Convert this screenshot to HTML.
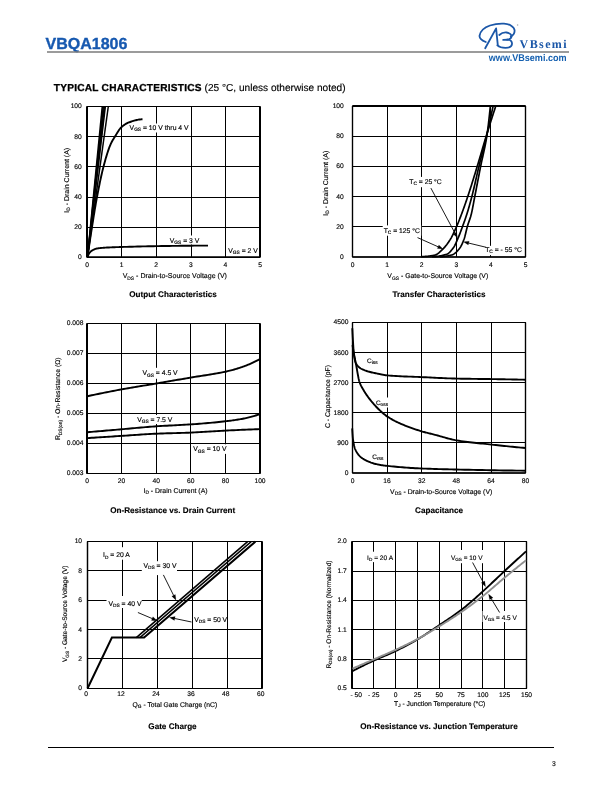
<!DOCTYPE html><html><head><meta charset="utf-8"><style>html,body{margin:0;padding:0;background:#fff;width:612px;height:792px;overflow:hidden}svg{display:block;will-change:transform;text-rendering:geometricPrecision}</style></head><body>
<svg width="612" height="792" viewBox="0 0 612 792" font-family='"Liberation Sans", sans-serif'>
<text x="45.6" y="48.7" font-size="16" text-anchor="start" font-weight="bold" fill="#1759b0" stroke="#1759b0" stroke-width="0.35">VBQA1806</text>
<line x1="47" y1="52" x2="569" y2="52" stroke="#7a7a7a" stroke-width="1.6" />
<g fill="none" stroke="#1b57a8" stroke-width="1.8" stroke-linecap="round" stroke-linejoin="round">
<path d="M485.8,42 C482,40.5 479,38.5 479.6,35.5 C480.5,31 484,27.5 490,25.5 C495,23.8 500,23.4 504,23.6 C510,24 514.5,27 514.6,30.6 C514.7,33.5 513,35.5 510.8,36.8"/>
<path d="M499.3,35 C501.5,33 504,32.3 506.5,32.5 C509.5,33 511.5,34.5 511.5,36.5 C511.4,38.2 509.5,39.4 507,39.6"/>
<path d="M503.2,39.9 L507.6,39.6 C510.5,39.8 512.2,41.5 512,44 C511.8,46.5 509,47.8 505.5,47.8 C502,47.8 499,46.8 497.4,45.4"/>
<path d="M485.2,48.2 L496.1,28.4 L497.8,45.2"/>
</g>
<circle cx="517.6" cy="25" r="0.8" fill="#aaa"/>
<text x="519.6" y="47.9" font-size="12" text-anchor="start" font-weight="bold" fill="#1b57a8" font-family="Liberation Serif" letter-spacing="1.4">VBsemi</text>
<text x="488.8" y="61.3" font-size="9.8" text-anchor="start" font-weight="bold" fill="#1560b0" textLength="77.8" lengthAdjust="spacingAndGlyphs">www.VBsemi.com</text>
<g stroke="#000" stroke-width="0.15">
<text x="53.8" y="90.6" font-size="9.8" fill="#000"><tspan font-weight="bold" font-size="10.1" letter-spacing="0.25" stroke="#000" stroke-width="0.3">TYPICAL CHARACTERISTICS</tspan><tspan font-size="10.1"> (25 °C, unless otherwise noted)</tspan></text>
<line x1="121.5" y1="106.5" x2="121.5" y2="257.2" stroke="#000" stroke-width="1.0" />
<line x1="156.5" y1="106.5" x2="156.5" y2="257.2" stroke="#000" stroke-width="1.0" />
<line x1="191.5" y1="106.5" x2="191.5" y2="257.2" stroke="#000" stroke-width="1.0" />
<line x1="225.5" y1="106.5" x2="225.5" y2="257.2" stroke="#000" stroke-width="1.0" />
<line x1="87" y1="136.5" x2="260" y2="136.5" stroke="#000" stroke-width="1.0" />
<line x1="87" y1="166.5" x2="260" y2="166.5" stroke="#000" stroke-width="1.0" />
<line x1="87" y1="197.5" x2="260" y2="197.5" stroke="#000" stroke-width="1.0" />
<line x1="87" y1="227.5" x2="260" y2="227.5" stroke="#000" stroke-width="1.0" />
<rect x="129" y="123.5" width="60" height="9" fill="#fff" stroke="none"/>
<rect x="168" y="235.5" width="35" height="9" fill="#fff" stroke="none"/>
<rect x="226.5" y="245" width="31" height="9" fill="#fff" stroke="none"/>
<path d="M87,106.5 L260,106.5 L260,257.2 L87,257.2 Z" fill="none" stroke="#000" stroke-width="1.2" stroke-linejoin="round"/>
<line x1="87" y1="106.5" x2="87" y2="257.2" stroke="#000" stroke-width="2" />
<line x1="87" y1="106.5" x2="260" y2="106.5" stroke="#000" stroke-width="1.2" />
<line x1="260" y1="106.5" x2="260" y2="257.2" stroke="#000" stroke-width="2" />
<line x1="87" y1="257.2" x2="260" y2="257.2" stroke="#000" stroke-width="1.5" />
<text x="87.00" y="267" font-size="6.7" text-anchor="middle" font-weight="normal" fill="#000" >0</text>
<text x="121.60" y="267" font-size="6.7" text-anchor="middle" font-weight="normal" fill="#000" >1</text>
<text x="156.20" y="267" font-size="6.7" text-anchor="middle" font-weight="normal" fill="#000" >2</text>
<text x="190.80" y="267" font-size="6.7" text-anchor="middle" font-weight="normal" fill="#000" >3</text>
<text x="225.40" y="267" font-size="6.7" text-anchor="middle" font-weight="normal" fill="#000" >4</text>
<text x="260.00" y="267" font-size="6.7" text-anchor="middle" font-weight="normal" fill="#000" >5</text>
<text x="81.8" y="259.10" font-size="6.7" text-anchor="end" font-weight="normal" fill="#000" >0</text>
<text x="81.8" y="228.96" font-size="6.7" text-anchor="end" font-weight="normal" fill="#000" >20</text>
<text x="81.8" y="198.82" font-size="6.7" text-anchor="end" font-weight="normal" fill="#000" >40</text>
<text x="81.8" y="168.68" font-size="6.7" text-anchor="end" font-weight="normal" fill="#000" >60</text>
<text x="81.8" y="138.54" font-size="6.7" text-anchor="end" font-weight="normal" fill="#000" >80</text>
<text x="81.8" y="108.40" font-size="6.7" text-anchor="end" font-weight="normal" fill="#000" >100</text>
<line x1="87.5" y1="257.2" x2="102.3" y2="106.5" stroke="#000" stroke-width="1.6" />
<line x1="87.5" y1="257.2" x2="103.3" y2="106.5" stroke="#000" stroke-width="1.6" />
<line x1="87.5" y1="257.2" x2="104.3" y2="106.5" stroke="#000" stroke-width="1.6" />
<line x1="87.5" y1="257.2" x2="105.3" y2="106.5" stroke="#000" stroke-width="1.6" />
<line x1="87.5" y1="257.2" x2="108.3" y2="106.5" stroke="#000" stroke-width="1.5" />
<path d="M87.50,257.00 L87.78,255.04 L88.06,253.09 L88.34,251.15 L88.62,249.23 L88.91,247.31 L89.19,245.41 L89.47,243.51 L89.75,241.63 L90.03,239.76 L90.31,237.90 L90.59,236.05 L90.88,234.22 L91.16,232.39 L91.44,230.58 L91.72,228.78 L92.00,227.00 L92.31,225.02 L92.62,223.05 L92.94,221.07 L93.25,219.10 L93.56,217.14 L93.88,215.19 L94.19,213.26 L94.50,211.34 L94.81,209.44 L95.12,207.57 L95.44,205.73 L95.75,203.91 L96.06,202.13 L96.38,200.38 L96.69,198.67 L97.00,197.00 L97.42,194.80 L97.84,192.63 L98.26,190.48 L98.67,188.35 L99.09,186.26 L99.51,184.19 L99.93,182.17 L100.35,180.17 L100.77,178.22 L101.19,176.31 L101.61,174.45 L102.03,172.63 L102.44,170.87 L102.86,169.15 L103.28,167.50 L103.70,165.90 L104.13,164.29 L104.56,162.71 L104.99,161.15 L105.42,159.61 L105.86,158.10 L106.29,156.63 L106.72,155.19 L107.15,153.79 L107.58,152.42 L108.01,151.11 L108.44,149.84 L108.88,148.62 L109.31,147.45 L109.74,146.34 L110.17,145.29 L110.60,144.30 L110.88,143.70 L111.15,143.13 L111.42,142.57 L111.70,142.04 L111.97,141.52 L112.25,141.02 L112.52,140.54 L112.80,140.06 L113.08,139.60 L113.35,139.15 L113.62,138.70 L113.90,138.26 L114.17,137.82 L114.45,137.38 L114.72,136.94 L115.00,136.50 L115.40,135.85 L115.80,135.19 L116.20,134.53 L116.60,133.87 L117.00,133.21 L117.40,132.55 L117.80,131.91 L118.20,131.28 L118.60,130.66 L119.00,130.07 L119.40,129.51 L119.80,128.97 L120.20,128.47 L120.60,128.00 L121.00,127.58 L121.40,127.20 L121.89,126.77 L122.38,126.36 L122.86,125.97 L123.35,125.59 L123.84,125.22 L124.33,124.87 L124.81,124.54 L125.30,124.22 L125.79,123.92 L126.27,123.64 L126.76,123.37 L127.25,123.12 L127.74,122.89 L128.22,122.67 L128.71,122.48 L129.20,122.30 L130.03,122.01 L130.86,121.73 L131.69,121.45 L132.52,121.18 L133.36,120.92 L134.19,120.68 L135.02,120.44 L135.85,120.22 L136.68,120.02 L137.51,119.84 L138.34,119.69 L139.18,119.55 L140.01,119.45 L140.84,119.37 L141.67,119.32 L142.50,119.30" fill="none" stroke="#000" stroke-width="1.9" stroke-linejoin="round" stroke-linecap="butt" />
<path d="M87.50,257.00 L87.62,256.68 L87.75,256.36 L87.88,256.04 L88.00,255.73 L88.12,255.43 L88.25,255.13 L88.38,254.84 L88.50,254.56 L88.62,254.29 L88.75,254.03 L88.88,253.79 L89.00,253.55 L89.12,253.34 L89.25,253.14 L89.38,252.96 L89.50,252.80 L89.72,252.54 L89.94,252.30 L90.16,252.07 L90.38,251.85 L90.59,251.65 L90.81,251.45 L91.03,251.27 L91.25,251.10 L91.47,250.93 L91.69,250.78 L91.91,250.63 L92.12,250.49 L92.34,250.36 L92.56,250.23 L92.78,250.11 L93.00,250.00 L93.25,249.87 L93.50,249.75 L93.75,249.62 L94.00,249.51 L94.25,249.39 L94.50,249.28 L94.75,249.17 L95.00,249.07 L95.25,248.97 L95.50,248.88 L95.75,248.80 L96.00,248.73 L96.25,248.66 L96.50,248.60 L96.75,248.54 L97.00,248.50 L97.81,248.38 L98.62,248.27 L99.44,248.17 L100.25,248.07 L101.06,247.99 L101.88,247.91 L102.69,247.84 L103.50,247.78 L104.31,247.72 L105.12,247.66 L105.94,247.61 L106.75,247.57 L107.56,247.52 L108.38,247.48 L109.19,247.44 L110.00,247.40 L110.72,247.37 L111.44,247.33 L112.16,247.30 L112.88,247.27 L113.59,247.25 L114.31,247.22 L115.03,247.20 L115.75,247.17 L116.47,247.15 L117.19,247.13 L117.91,247.10 L118.62,247.08 L119.34,247.06 L120.06,247.04 L120.78,247.02 L121.50,247.00 L124.16,246.92 L126.81,246.85 L129.47,246.77 L132.12,246.70 L134.78,246.62 L137.44,246.55 L140.09,246.48 L142.75,246.42 L145.41,246.35 L148.06,246.29 L150.72,246.23 L153.38,246.18 L156.03,246.13 L158.69,246.08 L161.34,246.04 L164.00,246.00 L166.75,245.96 L169.50,245.93 L172.25,245.89 L175.00,245.86 L177.75,245.83 L180.50,245.80 L183.25,245.77 L186.00,245.74 L188.75,245.71 L191.50,245.69 L194.25,245.67 L197.00,245.65 L199.75,245.63 L202.50,245.62 L205.25,245.61 L208.00,245.60" fill="none" stroke="#000" stroke-width="1.9" stroke-linejoin="round" stroke-linecap="butt" />
<text x="129.6" y="130" font-size="6.8" text-anchor="start" font-weight="normal" fill="#000" >V<tspan font-size="4.8" dy="1.4">GS</tspan><tspan dy="-1.4"> = 10 V thru 4 V</tspan></text>
<text x="169.8" y="243" font-size="6.8" text-anchor="start" font-weight="normal" fill="#000" >V<tspan font-size="4.8" dy="1.4">GS</tspan><tspan dy="-1.4"> = 3 V</tspan></text>
<text x="228.3" y="253" font-size="6.8" text-anchor="start" font-weight="normal" fill="#000" >V<tspan font-size="4.8" dy="1.4">GS</tspan><tspan dy="-1.4"> = 2 V</tspan></text>
<text x="68.9" y="180.3" font-size="7" text-anchor="middle" fill="#000" transform="rotate(-90 68.9 180.3)">I<tspan font-size="4.9" dy="1.4">D</tspan><tspan dy="-1.4"> - Drain Current (A)</tspan></text>
<text x="174.8" y="278.2" font-size="7.05" text-anchor="middle" font-weight="normal" fill="#000" >V<tspan font-size="4.9" dy="1.4">DS</tspan><tspan dy="-1.4"> - Drain-to-Source Voltage (V)</tspan></text>
<text x="173" y="296.8" font-size="8.15" text-anchor="middle" font-weight="bold" fill="#000" stroke="#000" stroke-width="0.15">Output Characteristics</text>
<line x1="387.5" y1="106" x2="387.5" y2="257" stroke="#000" stroke-width="1.0" />
<line x1="421.5" y1="106" x2="421.5" y2="257" stroke="#000" stroke-width="1.0" />
<line x1="456.5" y1="106" x2="456.5" y2="257" stroke="#000" stroke-width="1.0" />
<line x1="490.5" y1="106" x2="490.5" y2="257" stroke="#000" stroke-width="1.0" />
<line x1="352.5" y1="136.5" x2="525.5" y2="136.5" stroke="#000" stroke-width="1.0" />
<line x1="352.5" y1="166.5" x2="525.5" y2="166.5" stroke="#000" stroke-width="1.0" />
<line x1="352.5" y1="196.5" x2="525.5" y2="196.5" stroke="#000" stroke-width="1.0" />
<line x1="352.5" y1="226.5" x2="525.5" y2="226.5" stroke="#000" stroke-width="1.0" />
<rect x="407" y="176.9" width="37" height="10.3" fill="#fff" stroke="none"/>
<rect x="382.7" y="225.4" width="38.5" height="10.3" fill="#fff" stroke="none"/>
<rect x="484" y="245.8" width="40" height="9.3" fill="#fff" stroke="none"/>
<path d="M352.5,106 L525.5,106 L525.5,257 L352.5,257 Z" fill="none" stroke="#000" stroke-width="1.2" stroke-linejoin="round"/>
<line x1="352.5" y1="106" x2="352.5" y2="257" stroke="#000" stroke-width="1.2" />
<line x1="352.5" y1="106" x2="525.5" y2="106" stroke="#000" stroke-width="2" />
<line x1="525.5" y1="106" x2="525.5" y2="257" stroke="#000" stroke-width="1.2" />
<line x1="352.5" y1="257" x2="525.5" y2="257" stroke="#000" stroke-width="1.7" />
<text x="352.50" y="267" font-size="6.7" text-anchor="middle" font-weight="normal" fill="#000" >0</text>
<text x="387.10" y="267" font-size="6.7" text-anchor="middle" font-weight="normal" fill="#000" >1</text>
<text x="421.70" y="267" font-size="6.7" text-anchor="middle" font-weight="normal" fill="#000" >2</text>
<text x="456.30" y="267" font-size="6.7" text-anchor="middle" font-weight="normal" fill="#000" >3</text>
<text x="490.90" y="267" font-size="6.7" text-anchor="middle" font-weight="normal" fill="#000" >4</text>
<text x="525.50" y="267" font-size="6.7" text-anchor="middle" font-weight="normal" fill="#000" >5</text>
<text x="343.8" y="258.90" font-size="6.7" text-anchor="end" font-weight="normal" fill="#000" >0</text>
<text x="343.8" y="228.70" font-size="6.7" text-anchor="end" font-weight="normal" fill="#000" >20</text>
<text x="343.8" y="198.50" font-size="6.7" text-anchor="end" font-weight="normal" fill="#000" >40</text>
<text x="343.8" y="168.30" font-size="6.7" text-anchor="end" font-weight="normal" fill="#000" >60</text>
<text x="343.8" y="138.10" font-size="6.7" text-anchor="end" font-weight="normal" fill="#000" >80</text>
<text x="343.8" y="107.90" font-size="6.7" text-anchor="end" font-weight="normal" fill="#000" >100</text>
<path d="M421.00,256.60 L421.85,256.59 L422.70,256.58 L423.55,256.55 L424.40,256.50 L425.25,256.45 L426.10,256.39 L426.95,256.31 L427.80,256.23 L428.65,256.13 L429.50,256.03 L430.35,255.91 L431.20,255.79 L432.05,255.65 L432.90,255.51 L433.75,255.36 L434.60,255.20 L435.13,255.07 L435.66,254.88 L436.19,254.64 L436.73,254.35 L437.26,254.02 L437.79,253.65 L438.32,253.25 L438.85,252.82 L439.38,252.36 L439.91,251.88 L440.44,251.38 L440.98,250.87 L441.51,250.36 L442.04,249.84 L442.57,249.32 L443.10,248.80 L443.55,248.36 L444.00,247.89 L444.45,247.40 L444.90,246.90 L445.35,246.37 L445.80,245.82 L446.25,245.26 L446.70,244.68 L447.15,244.07 L447.60,243.46 L448.05,242.82 L448.50,242.17 L448.95,241.50 L449.40,240.81 L449.85,240.11 L450.30,239.40 L450.69,238.75 L451.09,238.07 L451.48,237.37 L451.88,236.63 L452.27,235.87 L452.66,235.09 L453.06,234.29 L453.45,233.47 L453.84,232.63 L454.24,231.78 L454.63,230.92 L455.03,230.05 L455.42,229.17 L455.81,228.28 L456.21,227.39 L456.60,226.50 L456.90,225.82 L457.20,225.12 L457.50,224.41 L457.80,223.69 L458.10,222.97 L458.40,222.23 L458.70,221.48 L459.00,220.73 L459.30,219.97 L459.60,219.20 L459.90,218.43 L460.20,217.65 L460.50,216.87 L460.80,216.08 L461.10,215.29 L461.40,214.50 L461.80,213.44 L462.20,212.36 L462.60,211.28 L463.00,210.19 L463.40,209.08 L463.80,207.97 L464.20,206.85 L464.60,205.72 L465.00,204.58 L465.40,203.44 L465.80,202.28 L466.20,201.12 L466.60,199.95 L467.00,198.78 L467.40,197.59 L467.80,196.40 L468.39,194.62 L468.99,192.81 L469.58,190.98 L470.18,189.13 L470.77,187.27 L471.36,185.39 L471.96,183.50 L472.55,181.59 L473.14,179.67 L473.74,177.75 L474.33,175.82 L474.93,173.88 L475.52,171.93 L476.11,169.99 L476.71,168.04 L477.30,166.10 L477.86,164.27 L478.41,162.42 L478.97,160.56 L479.52,158.69 L480.08,156.80 L480.64,154.91 L481.19,153.02 L481.75,151.12 L482.31,149.23 L482.86,147.34 L483.42,145.45 L483.98,143.57 L484.53,141.71 L485.09,139.86 L485.64,138.02 L486.20,136.20 L486.80,134.25 L487.40,132.31 L488.00,130.38 L488.60,128.46 L489.20,126.54 L489.80,124.63 L490.40,122.73 L491.00,120.84 L491.60,118.96 L492.20,117.08 L492.80,115.21 L493.40,113.35 L494.00,111.50 L494.60,109.66 L495.20,107.83 L495.80,106.00" fill="none" stroke="#000" stroke-width="1.7" stroke-linejoin="round" stroke-linecap="butt" />
<path d="M432.00,256.70 L432.90,256.69 L433.80,256.66 L434.70,256.61 L435.60,256.54 L436.50,256.45 L437.40,256.35 L438.30,256.23 L439.20,256.09 L440.10,255.93 L441.00,255.76 L441.90,255.57 L442.80,255.36 L443.70,255.14 L444.60,254.91 L445.50,254.66 L446.40,254.40 L446.85,254.24 L447.30,254.03 L447.75,253.77 L448.20,253.47 L448.65,253.12 L449.10,252.73 L449.55,252.31 L450.00,251.86 L450.45,251.38 L450.90,250.87 L451.35,250.33 L451.80,249.78 L452.25,249.20 L452.70,248.61 L453.15,248.01 L453.60,247.40 L453.88,247.00 L454.16,246.55 L454.44,246.07 L454.73,245.56 L455.01,245.01 L455.29,244.44 L455.57,243.85 L455.85,243.23 L456.13,242.60 L456.41,241.96 L456.69,241.31 L456.98,240.65 L457.26,239.98 L457.54,239.32 L457.82,238.66 L458.10,238.00 L458.40,237.30 L458.70,236.58 L459.00,235.85 L459.30,235.10 L459.60,234.34 L459.90,233.57 L460.20,232.79 L460.50,232.00 L460.80,231.21 L461.10,230.40 L461.40,229.59 L461.70,228.78 L462.00,227.96 L462.30,227.14 L462.60,226.32 L462.90,225.50 L463.15,224.82 L463.40,224.13 L463.65,223.44 L463.90,222.75 L464.15,222.06 L464.40,221.37 L464.65,220.66 L464.90,219.96 L465.15,219.24 L465.40,218.52 L465.65,217.80 L465.90,217.06 L466.15,216.31 L466.40,215.55 L466.65,214.78 L466.90,214.00 L467.21,213.01 L467.52,212.00 L467.84,210.97 L468.15,209.93 L468.46,208.88 L468.77,207.81 L469.09,206.72 L469.40,205.63 L469.71,204.52 L470.02,203.39 L470.34,202.26 L470.65,201.11 L470.96,199.95 L471.27,198.78 L471.59,197.59 L471.90,196.40 L472.34,194.67 L472.79,192.89 L473.23,191.07 L473.67,189.21 L474.12,187.31 L474.56,185.40 L475.01,183.46 L475.45,181.50 L475.89,179.54 L476.34,177.58 L476.78,175.62 L477.23,173.67 L477.67,171.74 L478.11,169.83 L478.56,167.95 L479.00,166.10 L479.47,164.18 L479.94,162.29 L480.41,160.43 L480.88,158.58 L481.34,156.75 L481.81,154.92 L482.28,153.10 L482.75,151.28 L483.22,149.46 L483.69,147.63 L484.16,145.79 L484.62,143.92 L485.09,142.04 L485.56,140.12 L486.03,138.18 L486.50,136.20 L486.91,134.43 L487.32,132.64 L487.74,130.84 L488.15,129.02 L488.56,127.19 L488.98,125.33 L489.39,123.47 L489.80,121.58 L490.21,119.68 L490.62,117.77 L491.04,115.84 L491.45,113.90 L491.86,111.95 L492.28,109.98 L492.69,107.99 L493.10,106.00" fill="none" stroke="#000" stroke-width="1.7" stroke-linejoin="round" stroke-linecap="butt" />
<path d="M440.00,256.70 L440.73,256.69 L441.45,256.67 L442.18,256.63 L442.90,256.58 L443.62,256.51 L444.35,256.43 L445.07,256.33 L445.80,256.23 L446.53,256.11 L447.25,255.98 L447.98,255.84 L448.70,255.69 L449.43,255.53 L450.15,255.36 L450.88,255.19 L451.60,255.00 L452.09,254.85 L452.58,254.66 L453.06,254.43 L453.55,254.16 L454.04,253.85 L454.52,253.51 L455.01,253.13 L455.50,252.73 L455.99,252.29 L456.48,251.83 L456.96,251.34 L457.45,250.83 L457.94,250.30 L458.42,249.75 L458.91,249.18 L459.40,248.60 L459.69,248.23 L459.97,247.84 L460.26,247.40 L460.55,246.94 L460.84,246.45 L461.12,245.92 L461.41,245.37 L461.70,244.79 L461.99,244.19 L462.27,243.56 L462.56,242.90 L462.85,242.22 L463.14,241.52 L463.43,240.80 L463.71,240.06 L464.00,239.30 L464.22,238.68 L464.44,238.00 L464.66,237.26 L464.88,236.47 L465.09,235.64 L465.31,234.77 L465.53,233.88 L465.75,232.98 L465.97,232.06 L466.19,231.14 L466.41,230.23 L466.62,229.32 L466.84,228.44 L467.06,227.59 L467.28,226.77 L467.50,226.00 L467.73,225.23 L467.96,224.49 L468.19,223.78 L468.43,223.09 L468.66,222.42 L468.89,221.76 L469.12,221.10 L469.35,220.45 L469.58,219.78 L469.81,219.11 L470.04,218.42 L470.27,217.70 L470.51,216.96 L470.74,216.18 L470.97,215.36 L471.20,214.50 L471.43,213.60 L471.65,212.65 L471.88,211.64 L472.10,210.58 L472.32,209.48 L472.55,208.35 L472.77,207.19 L473.00,206.00 L473.23,204.80 L473.45,203.59 L473.68,202.37 L473.90,201.15 L474.12,199.94 L474.35,198.74 L474.57,197.56 L474.80,196.40 L475.17,194.52 L475.54,192.64 L475.91,190.74 L476.27,188.84 L476.64,186.94 L477.01,185.03 L477.38,183.12 L477.75,181.21 L478.12,179.30 L478.49,177.39 L478.86,175.49 L479.23,173.59 L479.59,171.70 L479.96,169.83 L480.33,167.96 L480.70,166.10 L481.08,164.22 L481.46,162.41 L481.84,160.66 L482.23,158.93 L482.61,157.24 L482.99,155.55 L483.37,153.86 L483.75,152.15 L484.13,150.41 L484.51,148.63 L484.89,146.78 L485.27,144.87 L485.66,142.87 L486.04,140.76 L486.42,138.54 L486.80,136.20 L487.03,134.74 L487.25,133.20 L487.48,131.59 L487.70,129.91 L487.93,128.17 L488.15,126.37 L488.38,124.51 L488.60,122.61 L488.82,120.66 L489.05,118.66 L489.27,116.62 L489.50,114.55 L489.72,112.45 L489.95,110.32 L490.17,108.17 L490.40,106.00" fill="none" stroke="#000" stroke-width="1.7" stroke-linejoin="round" stroke-linecap="butt" />
<line x1="430.9" y1="188.1" x2="455.14430135630914" y2="233.48970705053364" stroke="#000" stroke-width="0.9" />
<polygon points="457.50,237.90 453.14,233.99 456.67,232.11" fill="#000"/>
<line x1="417.5" y1="237.6" x2="438.53241497229885" y2="246.96599729235183" stroke="#000" stroke-width="0.9" />
<polygon points="443.10,249.00 437.26,248.59 438.89,244.94" fill="#000"/>
<line x1="486.2" y1="247.3" x2="468.2605786654664" y2="242.9725080114064" stroke="#000" stroke-width="0.9" />
<polygon points="463.40,241.80 469.22,241.15 468.28,245.03" fill="#000"/>
<text x="409.3" y="183.7" font-size="6.8" text-anchor="start" font-weight="normal" fill="#000" >T<tspan font-size="4.8" dy="1.4">C</tspan><tspan dy="-1.4"> = 25 °C</tspan></text>
<text x="383.7" y="232.7" font-size="6.8" text-anchor="start" font-weight="normal" fill="#000" >T<tspan font-size="4.8" dy="1.4">C</tspan><tspan dy="-1.4"> = 125 °C</tspan></text>
<text x="485.2" y="251.7" font-size="6.8" text-anchor="start" font-weight="normal" fill="#000" >T<tspan font-size="4.8" dy="1.4">C</tspan><tspan dy="-1.4"> = - 55 °C</tspan></text>
<text x="328.1" y="183.2" font-size="7" text-anchor="middle" fill="#000" transform="rotate(-90 328.1 183.2)">I<tspan font-size="4.9" dy="1.4">D</tspan><tspan dy="-1.4"> - Drain Current (A)</tspan></text>
<text x="437.8" y="278.2" font-size="6.9" text-anchor="middle" font-weight="normal" fill="#000" >V<tspan font-size="4.9" dy="1.4">GS</tspan><tspan dy="-1.4"> - Gate-to-Source Voltage (V)</tspan></text>
<text x="439" y="296.8" font-size="8.15" text-anchor="middle" font-weight="bold" fill="#000" stroke="#000" stroke-width="0.15">Transfer Characteristics</text>
<line x1="121.5" y1="323.5" x2="121.5" y2="473.5" stroke="#000" stroke-width="1.0" />
<line x1="156.5" y1="323.5" x2="156.5" y2="473.5" stroke="#000" stroke-width="1.0" />
<line x1="190.5" y1="323.5" x2="190.5" y2="473.5" stroke="#000" stroke-width="1.0" />
<line x1="225.5" y1="323.5" x2="225.5" y2="473.5" stroke="#000" stroke-width="1.0" />
<line x1="87" y1="353.5" x2="260" y2="353.5" stroke="#000" stroke-width="1.0" />
<line x1="87" y1="383.5" x2="260" y2="383.5" stroke="#000" stroke-width="1.0" />
<line x1="87" y1="413.5" x2="260" y2="413.5" stroke="#000" stroke-width="1.0" />
<line x1="87" y1="443.5" x2="260" y2="443.5" stroke="#000" stroke-width="1.0" />
<rect x="141.5" y="367.8" width="36" height="11" fill="#fff" stroke="none"/>
<rect x="136.5" y="415" width="37" height="9" fill="#fff" stroke="none"/>
<rect x="192.5" y="444.3" width="36" height="9.6" fill="#fff" stroke="none"/>
<path d="M87,323.5 L260,323.5 L260,473.5 L87,473.5 Z" fill="none" stroke="#000" stroke-width="1.2" stroke-linejoin="round"/>
<line x1="87" y1="323.5" x2="87" y2="473.5" stroke="#000" stroke-width="2" />
<line x1="87" y1="323.5" x2="260" y2="323.5" stroke="#000" stroke-width="1.2" />
<line x1="260" y1="323.5" x2="260" y2="473.5" stroke="#000" stroke-width="2" />
<line x1="87" y1="473.5" x2="260" y2="473.5" stroke="#000" stroke-width="1.2" />
<text x="87.00" y="483" font-size="6.7" text-anchor="middle" font-weight="normal" fill="#000" >0</text>
<text x="121.60" y="483" font-size="6.7" text-anchor="middle" font-weight="normal" fill="#000" >20</text>
<text x="156.20" y="483" font-size="6.7" text-anchor="middle" font-weight="normal" fill="#000" >40</text>
<text x="190.80" y="483" font-size="6.7" text-anchor="middle" font-weight="normal" fill="#000" >60</text>
<text x="225.40" y="483" font-size="6.7" text-anchor="middle" font-weight="normal" fill="#000" >80</text>
<text x="260.00" y="483" font-size="6.7" text-anchor="middle" font-weight="normal" fill="#000" >100</text>
<text x="83.5" y="475.40" font-size="6.7" text-anchor="end" font-weight="normal" fill="#000" >0.003</text>
<text x="83.5" y="445.40" font-size="6.7" text-anchor="end" font-weight="normal" fill="#000" >0.004</text>
<text x="83.5" y="415.40" font-size="6.7" text-anchor="end" font-weight="normal" fill="#000" >0.005</text>
<text x="83.5" y="385.40" font-size="6.7" text-anchor="end" font-weight="normal" fill="#000" >0.006</text>
<text x="83.5" y="355.40" font-size="6.7" text-anchor="end" font-weight="normal" fill="#000" >0.007</text>
<text x="83.5" y="325.40" font-size="6.7" text-anchor="end" font-weight="normal" fill="#000" >0.008</text>
<path d="M87.50,396.20 L89.62,395.74 L91.75,395.29 L93.88,394.84 L96.00,394.40 L98.12,393.96 L100.25,393.52 L102.38,393.09 L104.50,392.66 L106.62,392.24 L108.75,391.82 L110.88,391.41 L113.00,391.00 L115.12,390.59 L117.25,390.19 L119.38,389.79 L121.50,389.40 L123.68,389.00 L125.86,388.62 L128.04,388.23 L130.22,387.86 L132.41,387.49 L134.59,387.12 L136.77,386.76 L138.95,386.40 L141.13,386.04 L143.31,385.68 L145.49,385.32 L147.68,384.96 L149.86,384.60 L152.04,384.24 L154.22,383.87 L156.40,383.50 L158.53,383.13 L160.66,382.77 L162.79,382.40 L164.93,382.03 L167.06,381.66 L169.19,381.29 L171.32,380.92 L173.45,380.55 L175.58,380.18 L177.71,379.81 L179.84,379.44 L181.97,379.07 L184.11,378.70 L186.24,378.33 L188.37,377.97 L190.50,377.60 L192.68,377.23 L194.86,376.88 L197.04,376.53 L199.22,376.20 L201.41,375.86 L203.59,375.53 L205.77,375.19 L207.95,374.86 L210.13,374.51 L212.31,374.16 L214.49,373.79 L216.68,373.41 L218.86,373.02 L221.04,372.60 L223.22,372.16 L225.40,371.70 L226.50,371.46 L227.60,371.20 L228.70,370.94 L229.80,370.67 L230.90,370.39 L232.00,370.10 L233.10,369.80 L234.20,369.49 L235.30,369.17 L236.40,368.84 L237.50,368.51 L238.60,368.16 L239.70,367.81 L240.80,367.45 L241.90,367.08 L243.00,366.70 L244.03,366.33 L245.06,365.95 L246.09,365.55 L247.12,365.14 L248.16,364.72 L249.19,364.28 L250.22,363.83 L251.25,363.37 L252.28,362.90 L253.31,362.41 L254.34,361.92 L255.38,361.41 L256.41,360.90 L257.44,360.37 L258.47,359.84 L259.50,359.30" fill="none" stroke="#000" stroke-width="1.9" stroke-linejoin="round" stroke-linecap="butt" />
<path d="M87.50,432.20 L89.62,432.02 L91.75,431.84 L93.88,431.66 L96.00,431.48 L98.12,431.30 L100.25,431.12 L102.38,430.93 L104.50,430.75 L106.62,430.57 L108.75,430.39 L110.88,430.21 L113.00,430.03 L115.12,429.85 L117.25,429.66 L119.38,429.48 L121.50,429.30 L123.68,429.11 L125.86,428.92 L128.04,428.72 L130.22,428.52 L132.41,428.32 L134.59,428.12 L136.77,427.92 L138.95,427.72 L141.13,427.52 L143.31,427.33 L145.49,427.14 L147.68,426.96 L149.86,426.78 L152.04,426.61 L154.22,426.45 L156.40,426.30 L158.53,426.16 L160.66,426.03 L162.79,425.91 L164.93,425.79 L167.06,425.68 L169.19,425.57 L171.32,425.46 L173.45,425.35 L175.58,425.25 L177.71,425.14 L179.84,425.03 L181.97,424.92 L184.11,424.80 L186.24,424.67 L188.37,424.54 L190.50,424.40 L192.68,424.25 L194.86,424.09 L197.04,423.93 L199.22,423.77 L201.41,423.60 L203.59,423.42 L205.77,423.24 L207.95,423.05 L210.13,422.86 L212.31,422.66 L214.49,422.45 L216.68,422.24 L218.86,422.01 L221.04,421.78 L223.22,421.55 L225.40,421.30 L226.56,421.16 L227.72,421.03 L228.89,420.88 L230.05,420.73 L231.21,420.58 L232.38,420.42 L233.54,420.26 L234.70,420.09 L235.86,419.91 L237.03,419.73 L238.19,419.54 L239.35,419.35 L240.51,419.15 L241.68,418.94 L242.84,418.72 L244.00,418.50 L244.97,418.31 L245.94,418.10 L246.91,417.88 L247.88,417.65 L248.84,417.42 L249.81,417.17 L250.78,416.92 L251.75,416.65 L252.72,416.38 L253.69,416.10 L254.66,415.82 L255.62,415.52 L256.59,415.23 L257.56,414.92 L258.53,414.61 L259.50,414.30" fill="none" stroke="#000" stroke-width="1.9" stroke-linejoin="round" stroke-linecap="butt" />
<path d="M87.50,438.10 L89.62,437.96 L91.75,437.82 L93.88,437.68 L96.00,437.54 L98.12,437.41 L100.25,437.27 L102.38,437.13 L104.50,436.99 L106.62,436.86 L108.75,436.72 L110.88,436.58 L113.00,436.44 L115.12,436.31 L117.25,436.17 L119.38,436.04 L121.50,435.90 L123.68,435.76 L125.86,435.61 L128.04,435.46 L130.22,435.31 L132.41,435.16 L134.59,435.01 L136.77,434.86 L138.95,434.71 L141.13,434.56 L143.31,434.42 L145.49,434.28 L147.68,434.15 L149.86,434.02 L152.04,433.91 L154.22,433.80 L156.40,433.70 L158.53,433.61 L160.66,433.53 L162.79,433.46 L164.93,433.39 L167.06,433.32 L169.19,433.26 L171.32,433.20 L173.45,433.14 L175.58,433.09 L177.71,433.03 L179.84,432.97 L181.97,432.90 L184.11,432.83 L186.24,432.76 L188.37,432.68 L190.50,432.60 L192.68,432.50 L194.86,432.40 L197.04,432.29 L199.22,432.17 L201.41,432.04 L203.59,431.91 L205.77,431.77 L207.95,431.64 L210.13,431.50 L212.31,431.36 L214.49,431.22 L216.68,431.09 L218.86,430.96 L221.04,430.83 L223.22,430.71 L225.40,430.60 L227.53,430.49 L229.66,430.39 L231.79,430.29 L233.93,430.19 L236.06,430.09 L238.19,429.99 L240.32,429.89 L242.45,429.80 L244.58,429.70 L246.71,429.61 L248.84,429.52 L250.97,429.43 L253.11,429.35 L255.24,429.26 L257.37,429.18 L259.50,429.10" fill="none" stroke="#000" stroke-width="1.9" stroke-linejoin="round" stroke-linecap="butt" />
<text x="142.5" y="375.1" font-size="6.8" text-anchor="start" font-weight="normal" fill="#000" >V<tspan font-size="4.8" dy="1.4">GS</tspan><tspan dy="-1.4"> = 4.5 V</tspan></text>
<text x="137.2" y="421.9" font-size="6.8" text-anchor="start" font-weight="normal" fill="#000" >V<tspan font-size="4.8" dy="1.4">GS</tspan><tspan dy="-1.4"> = 7.5 V</tspan></text>
<text x="193.3" y="451.1" font-size="6.8" text-anchor="start" font-weight="normal" fill="#000" >V<tspan font-size="4.8" dy="1.4">GS</tspan><tspan dy="-1.4"> = 10 V</tspan></text>
<text x="60.5" y="398.8" font-size="6.8" text-anchor="middle" fill="#000" transform="rotate(-90 60.5 398.8)">R<tspan font-size="4.8" dy="1.4">DS(on)</tspan><tspan dy="-1.4"> - On-Resistance (Ω)</tspan></text>
<text x="175.5" y="493" font-size="6.9" text-anchor="middle" font-weight="normal" fill="#000" >I<tspan font-size="4.9" dy="1.4">D</tspan><tspan dy="-1.4"> - Drain Current (A)</tspan></text>
<text x="172.7" y="513" font-size="8.15" text-anchor="middle" font-weight="bold" fill="#000" stroke="#000" stroke-width="0.15">On-Resistance vs. Drain Current</text>
<line x1="387.5" y1="322.5" x2="387.5" y2="473" stroke="#000" stroke-width="1.0" />
<line x1="421.5" y1="322.5" x2="421.5" y2="473" stroke="#000" stroke-width="1.0" />
<line x1="456.5" y1="322.5" x2="456.5" y2="473" stroke="#000" stroke-width="1.0" />
<line x1="491.5" y1="322.5" x2="491.5" y2="473" stroke="#000" stroke-width="1.0" />
<line x1="352.5" y1="352.5" x2="525.5" y2="352.5" stroke="#000" stroke-width="1.0" />
<line x1="352.5" y1="382.5" x2="525.5" y2="382.5" stroke="#000" stroke-width="1.0" />
<line x1="352.5" y1="412.5" x2="525.5" y2="412.5" stroke="#000" stroke-width="1.0" />
<line x1="352.5" y1="442.5" x2="525.5" y2="442.5" stroke="#000" stroke-width="1.0" />
<rect x="366" y="355" width="14" height="10" fill="#fff" stroke="none"/>
<rect x="375" y="397.5" width="14" height="10" fill="#fff" stroke="none"/>
<rect x="371" y="450" width="14" height="10" fill="#fff" stroke="none"/>
<path d="M352.5,322.5 L525.5,322.5 L525.5,473 L352.5,473 Z" fill="none" stroke="#000" stroke-width="1.2" stroke-linejoin="round"/>
<line x1="352.5" y1="322.5" x2="352.5" y2="473" stroke="#000" stroke-width="1.2" />
<line x1="352.5" y1="322.5" x2="525.5" y2="322.5" stroke="#000" stroke-width="1.2" />
<line x1="525.5" y1="322.5" x2="525.5" y2="473" stroke="#000" stroke-width="1.2" />
<line x1="352.5" y1="473" x2="525.5" y2="473" stroke="#000" stroke-width="1.6" />
<text x="352.50" y="483" font-size="6.7" text-anchor="middle" font-weight="normal" fill="#000" >0</text>
<text x="387.10" y="483" font-size="6.7" text-anchor="middle" font-weight="normal" fill="#000" >16</text>
<text x="421.70" y="483" font-size="6.7" text-anchor="middle" font-weight="normal" fill="#000" >32</text>
<text x="456.30" y="483" font-size="6.7" text-anchor="middle" font-weight="normal" fill="#000" >48</text>
<text x="490.90" y="483" font-size="6.7" text-anchor="middle" font-weight="normal" fill="#000" >64</text>
<text x="525.50" y="483" font-size="6.7" text-anchor="middle" font-weight="normal" fill="#000" >80</text>
<text x="348.5" y="474.90" font-size="6.7" text-anchor="end" font-weight="normal" fill="#000" >0</text>
<text x="348.5" y="444.80" font-size="6.7" text-anchor="end" font-weight="normal" fill="#000" >900</text>
<text x="348.5" y="414.70" font-size="6.7" text-anchor="end" font-weight="normal" fill="#000" >1800</text>
<text x="348.5" y="384.60" font-size="6.7" text-anchor="end" font-weight="normal" fill="#000" >2700</text>
<text x="348.5" y="354.50" font-size="6.7" text-anchor="end" font-weight="normal" fill="#000" >3600</text>
<text x="348.5" y="324.40" font-size="6.7" text-anchor="end" font-weight="normal" fill="#000" >4500</text>
<path d="M352.30,328.30 L352.36,329.48 L352.41,330.64 L352.47,331.78 L352.52,332.90 L352.58,334.01 L352.64,335.10 L352.69,336.17 L352.75,337.22 L352.81,338.25 L352.86,339.27 L352.92,340.27 L352.98,341.25 L353.03,342.21 L353.09,343.16 L353.14,344.09 L353.20,345.00 L353.24,345.61 L353.27,346.23 L353.31,346.86 L353.35,347.48 L353.39,348.11 L353.43,348.73 L353.46,349.34 L353.50,349.94 L353.54,350.51 L353.57,351.06 L353.61,351.58 L353.65,352.07 L353.69,352.52 L353.73,352.93 L353.76,353.29 L353.80,353.60 L353.94,354.61 L354.07,355.56 L354.21,356.46 L354.35,357.30 L354.49,358.08 L354.62,358.81 L354.76,359.49 L354.90,360.12 L355.04,360.69 L355.18,361.22 L355.31,361.70 L355.45,362.13 L355.59,362.51 L355.73,362.85 L355.86,363.15 L356.00,363.40 L356.44,364.10 L356.88,364.74 L357.31,365.33 L357.75,365.87 L358.19,366.36 L358.62,366.80 L359.06,367.20 L359.50,367.57 L359.94,367.90 L360.38,368.21 L360.81,368.48 L361.25,368.74 L361.69,368.97 L362.12,369.19 L362.56,369.40 L363.00,369.60 L363.90,369.99 L364.80,370.35 L365.70,370.68 L366.60,370.99 L367.50,371.28 L368.40,371.54 L369.30,371.79 L370.20,372.02 L371.10,372.24 L372.00,372.45 L372.90,372.65 L373.80,372.84 L374.70,373.03 L375.60,373.22 L376.50,373.41 L377.40,373.60 L378.02,373.74 L378.65,373.87 L379.27,374.01 L379.90,374.14 L380.52,374.28 L381.15,374.41 L381.77,374.54 L382.40,374.66 L383.02,374.78 L383.65,374.89 L384.27,375.00 L384.90,375.10 L385.52,375.19 L386.15,375.27 L386.77,375.34 L387.40,375.40 L389.53,375.58 L391.66,375.74 L393.79,375.88 L395.92,376.01 L398.06,376.13 L400.19,376.23 L402.32,376.33 L404.45,376.43 L406.58,376.51 L408.71,376.59 L410.84,376.67 L412.98,376.75 L415.11,376.83 L417.24,376.92 L419.37,377.01 L421.50,377.10 L423.70,377.20 L425.90,377.31 L428.10,377.42 L430.30,377.53 L432.50,377.64 L434.70,377.75 L436.90,377.85 L439.10,377.96 L441.30,378.06 L443.50,378.16 L445.70,378.25 L447.90,378.34 L450.10,378.41 L452.30,378.49 L454.50,378.55 L456.70,378.60 L458.89,378.64 L461.07,378.69 L463.26,378.72 L465.45,378.76 L467.64,378.79 L469.82,378.82 L472.01,378.85 L474.20,378.87 L476.39,378.90 L478.57,378.93 L480.76,378.95 L482.95,378.98 L485.14,379.01 L487.32,379.04 L489.51,379.07 L491.70,379.10 L493.78,379.13 L495.86,379.17 L497.94,379.20 L500.02,379.24 L502.11,379.27 L504.19,379.31 L506.27,379.35 L508.35,379.38 L510.43,379.42 L512.51,379.46 L514.59,379.50 L516.67,379.54 L518.76,379.58 L520.84,379.62 L522.92,379.66 L525.00,379.70" fill="none" stroke="#000" stroke-width="1.9" stroke-linejoin="round" stroke-linecap="butt" />
<path d="M352.50,345.00 L352.58,345.53 L352.66,346.06 L352.74,346.58 L352.82,347.10 L352.91,347.62 L352.99,348.14 L353.07,348.65 L353.15,349.15 L353.23,349.65 L353.31,350.15 L353.39,350.64 L353.48,351.12 L353.56,351.60 L353.64,352.07 L353.72,352.54 L353.80,353.00 L353.94,353.76 L354.07,354.51 L354.21,355.24 L354.35,355.96 L354.49,356.67 L354.62,357.37 L354.76,358.06 L354.90,358.75 L355.04,359.43 L355.18,360.10 L355.31,360.78 L355.45,361.46 L355.59,362.13 L355.73,362.82 L355.86,363.50 L356.00,364.20 L356.22,365.34 L356.44,366.53 L356.66,367.76 L356.88,369.01 L357.09,370.28 L357.31,371.55 L357.53,372.81 L357.75,374.06 L357.97,375.27 L358.19,376.45 L358.41,377.57 L358.62,378.63 L358.84,379.61 L359.06,380.51 L359.28,381.31 L359.50,382.00 L359.75,382.70 L360.00,383.36 L360.25,383.98 L360.50,384.56 L360.75,385.11 L361.00,385.63 L361.25,386.12 L361.50,386.59 L361.75,387.04 L362.00,387.48 L362.25,387.91 L362.50,388.33 L362.75,388.74 L363.00,389.16 L363.25,389.58 L363.50,390.00 L363.91,390.70 L364.32,391.39 L364.74,392.06 L365.15,392.72 L365.56,393.37 L365.98,394.00 L366.39,394.62 L366.80,395.23 L367.21,395.83 L367.62,396.41 L368.04,396.99 L368.45,397.55 L368.86,398.10 L369.28,398.64 L369.69,399.18 L370.10,399.70 L370.83,400.61 L371.56,401.50 L372.29,402.37 L373.03,403.23 L373.76,404.07 L374.49,404.89 L375.22,405.70 L375.95,406.49 L376.68,407.26 L377.41,408.01 L378.14,408.75 L378.88,409.47 L379.61,410.18 L380.34,410.87 L381.07,411.54 L381.80,412.20 L382.15,412.51 L382.50,412.82 L382.85,413.12 L383.20,413.42 L383.55,413.71 L383.90,414.00 L384.25,414.28 L384.60,414.56 L384.95,414.84 L385.30,415.11 L385.65,415.37 L386.00,415.63 L386.35,415.88 L386.70,416.13 L387.05,416.37 L387.40,416.60 L388.16,417.09 L388.91,417.57 L389.67,418.04 L390.42,418.50 L391.18,418.94 L391.94,419.38 L392.69,419.80 L393.45,420.22 L394.21,420.62 L394.96,421.02 L395.72,421.40 L396.48,421.78 L397.23,422.15 L397.99,422.51 L398.74,422.86 L399.50,423.20 L400.88,423.81 L402.25,424.40 L403.62,424.98 L405.00,425.54 L406.38,426.09 L407.75,426.63 L409.12,427.15 L410.50,427.66 L411.88,428.15 L413.25,428.64 L414.62,429.11 L416.00,429.57 L417.38,430.02 L418.75,430.45 L420.12,430.88 L421.50,431.30 L422.34,431.55 L423.19,431.79 L424.03,432.02 L424.88,432.25 L425.72,432.48 L426.56,432.69 L427.41,432.91 L428.25,433.12 L429.09,433.33 L429.94,433.54 L430.78,433.74 L431.62,433.95 L432.47,434.16 L433.31,434.37 L434.16,434.58 L435.00,434.80 L436.36,435.16 L437.71,435.53 L439.07,435.91 L440.43,436.29 L441.78,436.68 L443.14,437.07 L444.49,437.46 L445.85,437.84 L447.21,438.22 L448.56,438.59 L449.92,438.94 L451.27,439.27 L452.63,439.59 L453.99,439.89 L455.34,440.16 L456.70,440.40 L458.89,440.76 L461.07,441.09 L463.26,441.41 L465.45,441.71 L467.64,441.99 L469.82,442.25 L472.01,442.51 L474.20,442.76 L476.39,442.99 L478.57,443.22 L480.76,443.45 L482.95,443.68 L485.14,443.90 L487.32,444.13 L489.51,444.36 L491.70,444.60 L493.78,444.83 L495.86,445.05 L497.94,445.28 L500.02,445.50 L502.11,445.72 L504.19,445.94 L506.27,446.16 L508.35,446.37 L510.43,446.58 L512.51,446.79 L514.59,447.00 L516.67,447.20 L518.76,447.41 L520.84,447.61 L522.92,447.80 L525.00,448.00" fill="none" stroke="#000" stroke-width="1.9" stroke-linejoin="round" stroke-linecap="butt" />
<path d="M352.20,428.40 L352.25,429.21 L352.30,430.03 L352.35,430.85 L352.40,431.66 L352.45,432.47 L352.50,433.26 L352.55,434.04 L352.60,434.79 L352.65,435.52 L352.70,436.21 L352.75,436.87 L352.80,437.48 L352.85,438.04 L352.90,438.55 L352.95,439.01 L353.00,439.40 L353.15,440.44 L353.30,441.42 L353.45,442.34 L353.60,443.19 L353.75,443.99 L353.90,444.74 L354.05,445.43 L354.20,446.08 L354.35,446.67 L354.50,447.22 L354.65,447.73 L354.80,448.20 L354.95,448.62 L355.10,449.02 L355.25,449.37 L355.40,449.70 L355.86,450.62 L356.31,451.47 L356.77,452.26 L357.22,452.99 L357.68,453.67 L358.14,454.30 L358.59,454.88 L359.05,455.41 L359.51,455.91 L359.96,456.37 L360.42,456.79 L360.88,457.18 L361.33,457.54 L361.79,457.88 L362.24,458.20 L362.70,458.50 L363.62,459.07 L364.54,459.61 L365.46,460.12 L366.38,460.59 L367.29,461.04 L368.21,461.47 L369.13,461.86 L370.05,462.23 L370.97,462.58 L371.89,462.90 L372.81,463.20 L373.72,463.48 L374.64,463.74 L375.56,463.98 L376.48,464.20 L377.40,464.40 L378.02,464.53 L378.65,464.65 L379.27,464.77 L379.90,464.88 L380.52,464.99 L381.15,465.09 L381.77,465.19 L382.40,465.28 L383.02,465.37 L383.65,465.45 L384.27,465.54 L384.90,465.61 L385.52,465.69 L386.15,465.76 L386.77,465.83 L387.40,465.90 L389.53,466.13 L391.66,466.34 L393.79,466.55 L395.92,466.75 L398.06,466.95 L400.19,467.13 L402.32,467.31 L404.45,467.48 L406.58,467.64 L408.71,467.79 L410.84,467.93 L412.98,468.06 L415.11,468.19 L417.24,468.30 L419.37,468.41 L421.50,468.50 L423.66,468.59 L425.81,468.67 L427.97,468.75 L430.12,468.82 L432.28,468.89 L434.44,468.96 L436.59,469.02 L438.75,469.08 L440.91,469.14 L443.06,469.20 L445.22,469.25 L447.38,469.30 L449.53,469.35 L451.69,469.40 L453.84,469.45 L456.00,469.50 L460.31,469.60 L464.62,469.69 L468.94,469.78 L473.25,469.87 L477.56,469.96 L481.88,470.05 L486.19,470.13 L490.50,470.21 L494.81,470.29 L499.12,470.36 L503.44,470.43 L507.75,470.49 L512.06,470.55 L516.38,470.61 L520.69,470.66 L525.00,470.70" fill="none" stroke="#000" stroke-width="1.9" stroke-linejoin="round" stroke-linecap="butt" />
<text x="367.1" y="362.9" font-size="6.5" text-anchor="start" font-weight="normal" fill="#000" >C<tspan font-size="4.8" dy="1.4">iss</tspan><tspan dy="-1.4"></tspan></text>
<text x="375.9" y="404.9" font-size="6.5" text-anchor="start" font-weight="normal" fill="#000" >C<tspan font-size="4.8" dy="1.4">oss</tspan><tspan dy="-1.4"></tspan></text>
<text x="372.3" y="458.5" font-size="6.5" text-anchor="start" font-weight="normal" fill="#000" >C<tspan font-size="4.8" dy="1.4">rss</tspan><tspan dy="-1.4"></tspan></text>
<text x="329.5" y="396.5" font-size="6.8" text-anchor="middle" fill="#000" transform="rotate(-90 329.5 396.5)">C - Capacitance (pF)</text>
<text x="441.2" y="493.6" font-size="6.9" text-anchor="middle" font-weight="normal" fill="#000" >V<tspan font-size="4.9" dy="1.4">DS</tspan><tspan dy="-1.4"> - Drain-to-Source Voltage (V)</tspan></text>
<text x="439" y="513" font-size="8.15" text-anchor="middle" font-weight="bold" fill="#000" stroke="#000" stroke-width="0.15">Capacitance</text>
<line x1="122.5" y1="541.5" x2="122.5" y2="688.5" stroke="#000" stroke-width="1.0" />
<line x1="157.5" y1="541.5" x2="157.5" y2="688.5" stroke="#000" stroke-width="1.0" />
<line x1="192.5" y1="541.5" x2="192.5" y2="688.5" stroke="#000" stroke-width="1.0" />
<line x1="227.5" y1="541.5" x2="227.5" y2="688.5" stroke="#000" stroke-width="1.0" />
<line x1="87.5" y1="570.5" x2="262" y2="570.5" stroke="#000" stroke-width="1.0" />
<line x1="87.5" y1="600.5" x2="262" y2="600.5" stroke="#000" stroke-width="1.0" />
<line x1="87.5" y1="629.5" x2="262" y2="629.5" stroke="#000" stroke-width="1.0" />
<line x1="87.5" y1="658.5" x2="262" y2="658.5" stroke="#000" stroke-width="1.0" />
<rect x="102" y="547.2" width="29" height="12.5" fill="#fff" stroke="none"/>
<rect x="141.8" y="561.2" width="35.2" height="13.9" fill="#fff" stroke="none"/>
<rect x="106.5" y="596" width="35.2" height="12" fill="#fff" stroke="none"/>
<rect x="193" y="612" width="34" height="13" fill="#fff" stroke="none"/>
<path d="M87.5,541.5 L262,541.5 L262,688.5 L87.5,688.5 Z" fill="none" stroke="#000" stroke-width="1.2" stroke-linejoin="round"/>
<line x1="87.5" y1="541.5" x2="87.5" y2="688.5" stroke="#000" stroke-width="1.3" />
<line x1="87.5" y1="541.5" x2="262" y2="541.5" stroke="#000" stroke-width="1.2" />
<line x1="262" y1="541.5" x2="262" y2="688.5" stroke="#000" stroke-width="2" />
<line x1="87.5" y1="688.5" x2="262" y2="688.5" stroke="#000" stroke-width="1.2" />
<text x="86.20" y="696" font-size="6.7" text-anchor="middle" font-weight="normal" fill="#000" >0</text>
<text x="121.10" y="696" font-size="6.7" text-anchor="middle" font-weight="normal" fill="#000" >12</text>
<text x="156.00" y="696" font-size="6.7" text-anchor="middle" font-weight="normal" fill="#000" >24</text>
<text x="190.90" y="696" font-size="6.7" text-anchor="middle" font-weight="normal" fill="#000" >36</text>
<text x="225.80" y="696" font-size="6.7" text-anchor="middle" font-weight="normal" fill="#000" >48</text>
<text x="260.70" y="696" font-size="6.7" text-anchor="middle" font-weight="normal" fill="#000" >60</text>
<text x="82.1" y="690.40" font-size="6.7" text-anchor="end" font-weight="normal" fill="#000" >0</text>
<text x="82.1" y="661.00" font-size="6.7" text-anchor="end" font-weight="normal" fill="#000" >2</text>
<text x="82.1" y="631.60" font-size="6.7" text-anchor="end" font-weight="normal" fill="#000" >4</text>
<text x="82.1" y="602.20" font-size="6.7" text-anchor="end" font-weight="normal" fill="#000" >6</text>
<text x="82.1" y="572.80" font-size="6.7" text-anchor="end" font-weight="normal" fill="#000" >8</text>
<text x="82.1" y="543.40" font-size="6.7" text-anchor="end" font-weight="normal" fill="#000" >10</text>
<path d="M87.6,688.3 L111.9,637.6 L144.1,637.6 L255.5,541.6" fill="none" stroke="#000" stroke-width="2" stroke-linejoin="miter"/>
<line x1="136.3" y1="637.6" x2="247.6" y2="541.6" stroke="#000" stroke-width="1.6" />
<line x1="139.9" y1="637.6" x2="251.2" y2="541.6" stroke="#000" stroke-width="1.4" />
<line x1="163.4" y1="574.9" x2="173.77101097723846" y2="595.7243315654075" stroke="#000" stroke-width="0.9" />
<polygon points="176.00,600.20 171.76,596.17 175.34,594.39" fill="#000"/>
<line x1="137.9" y1="612.5" x2="152.59813085309491" y2="618.7448017096052" stroke="#000" stroke-width="0.9" />
<polygon points="157.20,620.70 151.36,620.39 152.92,616.71" fill="#000"/>
<line x1="191.5" y1="622" x2="174.29508629257975" y2="618.418886739632" stroke="#000" stroke-width="0.9" />
<polygon points="169.40,617.40 175.19,616.56 174.38,620.48" fill="#000"/>
<text x="103.1" y="557.1" font-size="6.8" text-anchor="start" font-weight="normal" fill="#000" >I<tspan font-size="4.8" dy="1.4">D</tspan><tspan dy="-1.4"> = 20 A</tspan></text>
<text x="143.5" y="567.8" font-size="6.8" text-anchor="start" font-weight="normal" fill="#000" >V<tspan font-size="4.8" dy="1.4">DS</tspan><tspan dy="-1.4"> = 30 V</tspan></text>
<text x="108.5" y="605.9" font-size="6.8" text-anchor="start" font-weight="normal" fill="#000" >V<tspan font-size="4.8" dy="1.4">DS</tspan><tspan dy="-1.4"> = 40 V</tspan></text>
<text x="194.2" y="621.8" font-size="6.8" text-anchor="start" font-weight="normal" fill="#000" >V<tspan font-size="4.8" dy="1.4">DS</tspan><tspan dy="-1.4"> = 50 V</tspan></text>
<text x="67.5" y="613.8" font-size="6.6" text-anchor="middle" fill="#000" transform="rotate(-90 67.5 613.8)">V<tspan font-size="4.7" dy="1.4">GS</tspan><tspan dy="-1.4"> - Gate-to-Source Voltage (V)</tspan></text>
<text x="174.9" y="706.7" font-size="6.75" text-anchor="middle" font-weight="normal" fill="#000" >Q<tspan font-size="4.8" dy="1.4">G</tspan><tspan dy="-1.4"> - Total Gate Charge (nC)</tspan></text>
<text x="172.5" y="728.8" font-size="8.15" text-anchor="middle" font-weight="bold" fill="#000" stroke="#000" stroke-width="0.15">Gate Charge</text>
<line x1="373.5" y1="541.5" x2="373.5" y2="688.5" stroke="#000" stroke-width="1.0" />
<line x1="395.5" y1="541.5" x2="395.5" y2="688.5" stroke="#000" stroke-width="1.0" />
<line x1="417.5" y1="541.5" x2="417.5" y2="688.5" stroke="#000" stroke-width="1.0" />
<line x1="439.5" y1="541.5" x2="439.5" y2="688.5" stroke="#000" stroke-width="1.0" />
<line x1="461.5" y1="541.5" x2="461.5" y2="688.5" stroke="#000" stroke-width="1.0" />
<line x1="482.5" y1="541.5" x2="482.5" y2="688.5" stroke="#000" stroke-width="1.0" />
<line x1="504.5" y1="541.5" x2="504.5" y2="688.5" stroke="#000" stroke-width="1.0" />
<line x1="352" y1="571.5" x2="526.5" y2="571.5" stroke="#000" stroke-width="1.0" />
<line x1="352" y1="600.5" x2="526.5" y2="600.5" stroke="#000" stroke-width="1.0" />
<line x1="352" y1="629.5" x2="526.5" y2="629.5" stroke="#000" stroke-width="1.0" />
<line x1="352" y1="659.5" x2="526.5" y2="659.5" stroke="#000" stroke-width="1.0" />
<rect x="366" y="551.7" width="27" height="10.4" fill="#fff" stroke="none"/>
<rect x="450" y="550" width="33" height="13.2" fill="#fff" stroke="none"/>
<rect x="482.5" y="611" width="34" height="11" fill="#fff" stroke="none"/>
<path d="M352,541.5 L526.5,541.5 L526.5,688.5 L352,688.5 Z" fill="none" stroke="#000" stroke-width="1.2" stroke-linejoin="round"/>
<line x1="352" y1="541.5" x2="352" y2="688.5" stroke="#000" stroke-width="2" />
<line x1="352" y1="541.5" x2="526.5" y2="541.5" stroke="#000" stroke-width="1.2" />
<line x1="526.5" y1="541.5" x2="526.5" y2="688.5" stroke="#000" stroke-width="1.2" />
<line x1="352" y1="688.5" x2="526.5" y2="688.5" stroke="#000" stroke-width="1.2" />
<text x="352.00" y="696.9" font-size="6.7" text-anchor="middle" font-weight="normal" fill="#000" ></text>
<text x="373.81" y="696.9" font-size="6.7" text-anchor="middle" font-weight="normal" fill="#000" >- 25</text>
<text x="395.62" y="696.9" font-size="6.7" text-anchor="middle" font-weight="normal" fill="#000" >0</text>
<text x="417.44" y="696.9" font-size="6.7" text-anchor="middle" font-weight="normal" fill="#000" >25</text>
<text x="439.25" y="696.9" font-size="6.7" text-anchor="middle" font-weight="normal" fill="#000" >50</text>
<text x="461.06" y="696.9" font-size="6.7" text-anchor="middle" font-weight="normal" fill="#000" >75</text>
<text x="482.88" y="696.9" font-size="6.7" text-anchor="middle" font-weight="normal" fill="#000" >100</text>
<text x="504.69" y="696.9" font-size="6.7" text-anchor="middle" font-weight="normal" fill="#000" >125</text>
<text x="526.50" y="696.9" font-size="6.7" text-anchor="middle" font-weight="normal" fill="#000" >150</text>
<text x="346.8" y="690.40" font-size="6.7" text-anchor="end" font-weight="normal" fill="#000" >0.5</text>
<text x="346.8" y="661.00" font-size="6.7" text-anchor="end" font-weight="normal" fill="#000" >0.8</text>
<text x="346.8" y="631.60" font-size="6.7" text-anchor="end" font-weight="normal" fill="#000" >1.1</text>
<text x="346.8" y="602.20" font-size="6.7" text-anchor="end" font-weight="normal" fill="#000" >1.4</text>
<text x="346.8" y="572.80" font-size="6.7" text-anchor="end" font-weight="normal" fill="#000" >1.7</text>
<text x="346.8" y="543.40" font-size="6.7" text-anchor="end" font-weight="normal" fill="#000" >2.0</text>
<text x="350.6" y="696.9" font-size="6.7" text-anchor="start" font-weight="normal" fill="#000" >-<tspan dx="1.6">50</tspan></text>
<path d="M352.50,671.10 L353.80,670.42 L355.10,669.75 L356.40,669.08 L357.70,668.41 L359.00,667.75 L360.30,667.10 L361.60,666.45 L362.90,665.80 L364.20,665.16 L365.50,664.52 L366.80,663.89 L368.10,663.26 L369.40,662.64 L370.70,662.02 L372.00,661.41 L373.30,660.80 L374.70,660.16 L376.10,659.53 L377.50,658.91 L378.90,658.31 L380.30,657.71 L381.70,657.12 L383.10,656.53 L384.50,655.95 L385.90,655.36 L387.30,654.76 L388.70,654.17 L390.10,653.56 L391.50,652.94 L392.90,652.31 L394.30,651.66 L395.70,651.00 L397.08,650.33 L398.46,649.65 L399.84,648.97 L401.23,648.27 L402.61,647.57 L403.99,646.85 L405.37,646.13 L406.75,645.40 L408.13,644.65 L409.51,643.90 L410.89,643.14 L412.27,642.37 L413.66,641.59 L415.04,640.81 L416.42,640.01 L417.80,639.20 L419.18,638.38 L420.55,637.55 L421.93,636.69 L423.30,635.83 L424.68,634.94 L426.05,634.05 L427.43,633.15 L428.80,632.24 L430.18,631.32 L431.55,630.39 L432.93,629.46 L434.30,628.53 L435.68,627.60 L437.05,626.66 L438.43,625.73 L439.80,624.80 L441.18,623.88 L442.55,622.95 L443.93,622.04 L445.30,621.12 L446.68,620.20 L448.05,619.27 L449.43,618.35 L450.80,617.41 L452.18,616.47 L453.55,615.52 L454.93,614.55 L456.30,613.58 L457.68,612.59 L459.05,611.58 L460.43,610.55 L461.80,609.50 L463.10,608.49 L464.40,607.45 L465.70,606.40 L467.00,605.32 L468.30,604.23 L469.60,603.13 L470.90,602.01 L472.20,600.88 L473.50,599.74 L474.80,598.59 L476.10,597.43 L477.40,596.27 L478.70,595.10 L480.00,593.93 L481.30,592.77 L482.60,591.60 L483.96,590.38 L485.31,589.14 L486.67,587.89 L488.03,586.64 L489.38,585.37 L490.74,584.09 L492.09,582.81 L493.45,581.53 L494.81,580.25 L496.16,578.96 L497.52,577.67 L498.88,576.39 L500.23,575.11 L501.59,573.83 L502.94,572.56 L504.30,571.30 L505.66,570.04 L507.01,568.79 L508.37,567.54 L509.73,566.29 L511.08,565.04 L512.44,563.79 L513.79,562.54 L515.15,561.30 L516.51,560.06 L517.86,558.82 L519.22,557.58 L520.58,556.34 L521.93,555.10 L523.29,553.87 L524.64,552.63 L526.00,551.40" fill="none" stroke="#000" stroke-width="1.9" stroke-linejoin="round" stroke-linecap="butt" />
<path d="M352.50,668.60 L353.80,668.04 L355.10,667.48 L356.40,666.92 L357.70,666.36 L359.00,665.80 L360.30,665.24 L361.60,664.67 L362.90,664.11 L364.20,663.55 L365.50,662.99 L366.80,662.42 L368.10,661.86 L369.40,661.29 L370.70,660.73 L372.00,660.17 L373.30,659.60 L374.70,658.99 L376.10,658.39 L377.50,657.79 L378.90,657.19 L380.30,656.59 L381.70,655.98 L383.10,655.38 L384.50,654.78 L385.90,654.17 L387.30,653.57 L388.70,652.95 L390.10,652.34 L391.50,651.71 L392.90,651.08 L394.30,650.45 L395.70,649.80 L397.08,649.16 L398.46,648.51 L399.84,647.86 L401.23,647.21 L402.61,646.55 L403.99,645.89 L405.37,645.22 L406.75,644.55 L408.13,643.87 L409.51,643.18 L410.89,642.49 L412.27,641.79 L413.66,641.08 L415.04,640.36 L416.42,639.64 L417.80,638.90 L419.18,638.16 L420.55,637.40 L421.93,636.64 L423.30,635.86 L424.68,635.08 L426.05,634.28 L427.43,633.48 L428.80,632.67 L430.18,631.86 L431.55,631.03 L432.93,630.20 L434.30,629.37 L435.68,628.53 L437.05,627.69 L438.43,626.85 L439.80,626.00 L441.18,625.15 L442.55,624.30 L443.93,623.44 L445.30,622.57 L446.68,621.70 L448.05,620.83 L449.43,619.95 L450.80,619.06 L452.18,618.17 L453.55,617.26 L454.93,616.36 L456.30,615.44 L457.68,614.52 L459.05,613.59 L460.43,612.65 L461.80,611.70 L463.10,610.80 L464.40,609.88 L465.70,608.96 L467.00,608.04 L468.30,607.10 L469.60,606.16 L470.90,605.21 L472.20,604.25 L473.50,603.29 L474.80,602.31 L476.10,601.33 L477.40,600.34 L478.70,599.34 L480.00,598.34 L481.30,597.32 L482.60,596.30 L483.96,595.22 L485.31,594.11 L486.67,592.99 L488.03,591.86 L489.38,590.71 L490.74,589.55 L492.09,588.38 L493.45,587.21 L494.81,586.03 L496.16,584.85 L497.52,583.67 L498.88,582.50 L500.23,581.34 L501.59,580.18 L502.94,579.03 L504.30,577.90 L505.66,576.78 L507.01,575.66 L508.37,574.54 L509.73,573.43 L511.08,572.32 L512.44,571.21 L513.79,570.10 L515.15,569.00 L516.51,567.90 L517.86,566.81 L519.22,565.71 L520.58,564.63 L521.93,563.54 L523.29,562.46 L524.64,561.38 L526.00,560.30" fill="none" stroke="#8f8f8f" stroke-width="1.9" stroke-linejoin="round" stroke-linecap="butt" />
<line x1="472.6" y1="562.5" x2="483.23384360893056" y2="582.2953088720092" stroke="#000" stroke-width="0.9" />
<polygon points="485.60,586.70 481.24,582.80 484.76,580.91" fill="#000"/>
<line x1="499.6" y1="612.5" x2="491.0827366528826" y2="598.381293190364" stroke="#000" stroke-width="0.9" />
<polygon points="488.50,594.10 493.05,597.78 489.63,599.84" fill="#000"/>
<text x="367.1" y="559.9" font-size="6.6" text-anchor="start" font-weight="normal" fill="#000" >I<tspan font-size="4.7" dy="1.4">D</tspan><tspan dy="-1.4"> = 20 A</tspan></text>
<text x="451" y="559.5" font-size="6.45" text-anchor="start" font-weight="normal" fill="#000" >V<tspan font-size="4.6" dy="1.4">GS</tspan><tspan dy="-1.4"> = 10 V</tspan></text>
<text x="483.4" y="619.5" font-size="6.45" text-anchor="start" font-weight="normal" fill="#000" >V<tspan font-size="4.6" dy="1.4">GS</tspan><tspan dy="-1.4"> = 4.5 V</tspan></text>
<text x="331" y="614.5" font-size="6.6" text-anchor="middle" fill="#000" transform="rotate(-90 331 614.5)">R<tspan font-size="4.5" dy="1.4">DS(on)</tspan><tspan dy="-1.4"> - On-Resistance (Normalized)</tspan></text>
<text x="439.7" y="705.9" font-size="6.75" text-anchor="middle" font-weight="normal" fill="#000" >T<tspan font-size="4.8" dy="1.4">J</tspan><tspan dy="-1.4"> - Junction Temperature (°C)</tspan></text>
<text x="439" y="728.5" font-size="8.15" text-anchor="middle" font-weight="bold" fill="#000" stroke="#000" stroke-width="0.15">On-Resistance vs. Junction Temperature</text>
<line x1="48" y1="747.5" x2="554" y2="747.5" stroke="#000" stroke-width="1.1" />
<text x="553.8" y="765.9" font-size="6.8" text-anchor="middle" font-weight="normal" fill="#222" >3</text>
</g>
</svg></body></html>
